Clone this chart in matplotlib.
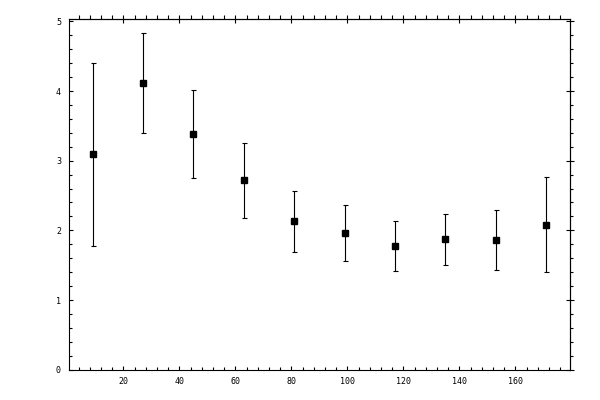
import matplotlib
matplotlib.use("Agg")
import matplotlib.pyplot as plt
from matplotlib.ticker import MultipleLocator

# data
x_vals = [9, 27, 45, 63, 81, 99, 117, 135, 153, 171]
y_vals = [3.09, 4.12, 3.38, 2.72, 2.13, 1.96, 1.77, 1.87, 1.86, 2.08]
y_err = [1.31, 0.72, 0.63, 0.54, 0.44, 0.40, 0.36, 0.37, 0.43, 0.68]
x_ticks = [20, 40, 60, 80, 100, 120, 140, 160]
y_ticks = [0, 1, 2, 3, 4, 5]

plt.rcParams['font.family'] = ['DejaVu Sans Mono']

fig = plt.figure(figsize=(6, 4), dpi=100)
ax = fig.add_axes([0.1155, 0.075, 0.835, 0.8767])

ax.errorbar(x_vals, y_vals, yerr=y_err, fmt='s', color='black',
            markersize=4.3, elinewidth=0.8, capsize=1.8, capthick=0.8)

ax.set_xlim(0.7, 179.6)
ax.set_ylim(-0.005, 5.03)
ax.set_xticks(x_ticks)
ax.set_yticks(y_ticks)
ax.xaxis.set_minor_locator(MultipleLocator(4))
ax.yaxis.set_minor_locator(MultipleLocator(0.2))

for s in ax.spines.values():
    s.set_linewidth(0.8)

ax.tick_params(which='both', direction='in', width=0.8, labelsize=6)
ax.tick_params(which='major', length=3)
ax.tick_params(which='minor', length=2)
ax.tick_params(axis='x', pad=5)
ax.tick_params(axis='y', pad=6)

# top and right: ticks pointing outward, majors crossing the line
top = ax.secondary_xaxis('top')
top.set_xticks(x_ticks)
top.xaxis.set_minor_locator(MultipleLocator(4))
top.tick_params(which='major', direction='inout', length=5.5, width=0.8, labeltop=False)
top.tick_params(which='minor', direction='out', length=2.6, width=0.8)
top.spines['top'].set_linewidth(0.8)

right = ax.secondary_yaxis('right')
right.set_yticks(y_ticks)
right.yaxis.set_minor_locator(MultipleLocator(0.2))
right.tick_params(which='major', direction='inout', length=5.5, width=0.8, labelright=False)
right.tick_params(which='minor', direction='out', length=2.4, width=0.8)
right.spines['right'].set_linewidth(0.8)

fig.savefig('out.png', dpi=100)
